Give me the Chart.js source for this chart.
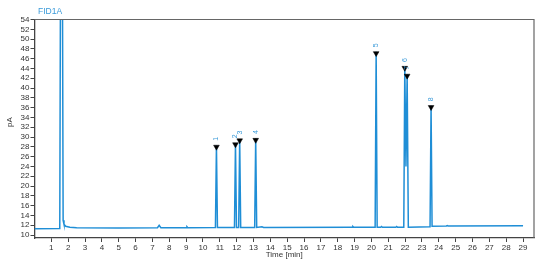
<!DOCTYPE html>
<html><head><meta charset="utf-8">
<script src="https://cdn.jsdelivr.net/npm/chart.js@4/dist/chart.umd.min.js"></script>
<style>html,body{margin:0;padding:0;background:#fff}</style>
</head><body>
<canvas id="c" width="555" height="263"></canvas>
<script>
// Chromatogram trace (time in min, signal in pA)
const times  = [0, 1.50, 1.54, 1.66, 1.70, 1.75, 1.85, 2.1, 2.5, 5.0, 7.3, 7.4, 7.5, 9.0, 9.05, 9.1,
  10.74, 10.80, 10.86, 11.87, 11.93, 11.99, 12.06, 12.12, 12.18, 12.24, 13.07, 13.13, 13.19, 13.5, 13.6,
  18.85, 18.9, 18.95, 20.22, 20.28, 20.34, 20.55, 20.6, 20.65, 21.45, 21.5, 21.55, 21.92, 21.98, 22.05, 22.12, 22.19,
  23.48, 23.54, 23.60, 24.45, 24.5, 24.55, 29.0];
const signal = [11.3, 11.35, 60, 60, 13.0, 12.2, 11.8, 11.6, 11.5, 11.45, 11.5, 12.0, 11.5, 11.5, 11.7, 11.5,
  11.55, 28.3, 11.55, 11.55, 28.8, 11.55, 11.55, 11.55, 29.6, 11.55, 11.55, 29.7, 11.55, 11.7, 11.55,
  11.6, 11.75, 11.6, 11.6, 47.4, 11.6, 11.6, 11.75, 11.6, 11.6, 11.75, 11.6, 11.6, 44.4, 24.0, 42.8, 11.6,
  11.7, 36.4, 11.8, 11.85, 11.95, 11.85, 11.9];
// Integrated peaks
const peakTimes   = [10.80, 11.93, 12.18, 13.13, 20.28, 21.98, 22.12, 23.54];
const peakHeights = [28.0, 28.5, 29.3, 29.4, 47.1, 44.1, 42.5, 36.1];
const peakLabels  = ['1', '2', '3', '4', '5', '6', '7', '8'];
// Axis ticks
const xTicks = [1,2,3,4,5,6,7,8,9,10,11,12,13,14,15,16,17,18,19,20,21,22,23,24,25,26,27,28,29];
const yTicks = [10,12,14,16,18,20,22,24,26,28,30,32,34,36,38,40,42,44,46,48,50,52,54];

const BLUE = '#1f8ed6';
const AXIS = '#444';
const FONT = 'Liberation Sans, Arial, sans-serif';

const overlay = {
  id: 'overlay',
  afterDraw(chart) {
    const ctx = chart.ctx, a = chart.chartArea;
    const xs = chart.scales.x, ys = chart.scales.y;
    ctx.save();
    // top & right frame
    ctx.strokeStyle = '#666'; ctx.lineWidth = 1.2;
    ctx.beginPath();
    ctx.moveTo(a.left, a.top); ctx.lineTo(a.right, a.top); ctx.lineTo(a.right, a.bottom);
    ctx.stroke();
    // title
    ctx.fillStyle = '#3a9ad9';
    ctx.font = '8.5px ' + FONT;
    ctx.textAlign = 'left'; ctx.textBaseline = 'middle';
    ctx.fillText('FID1A', 38, 12);
    // axis titles
    ctx.fillStyle = '#333';
    ctx.font = '8px ' + FONT;
    ctx.textAlign = 'center';
    ctx.fillText('Time [min]', (a.left + a.right) / 2 + 0, 255);
    ctx.save();
    ctx.translate(10, 122); ctx.rotate(-Math.PI / 2);
    ctx.fillText('pA', 0, 0);
    ctx.restore();
    // peak labels
    ctx.fillStyle = '#3a9ad9';
    ctx.font = '7px ' + FONT;
    peakTimes.forEach((t, i) => {
      const px = xs.getPixelForValue(t), py = ys.getPixelForValue(peakHeights[i]);
      ctx.save();
      ctx.translate(px, py - 8);
      ctx.rotate(-Math.PI / 2);
      ctx.textAlign = 'center'; ctx.textBaseline = 'middle';
      ctx.fillText(peakLabels[i], 0, 0);
      ctx.restore();
    });
    ctx.restore();
  }
};

new Chart(document.getElementById('c'), {
  type: 'scatter',
  data: {
    datasets: [
      {
        data: times.map((t, i) => ({x: t, y: signal[i]})),
        showLine: true, borderColor: BLUE, borderWidth: 1.5,
        pointRadius: 0, tension: 0, order: 2
      },
      {
        data: peakTimes.map((t, i) => ({x: t, y: peakHeights[i]})),
        showLine: false, pointStyle: 'triangle', rotation: 180,
        pointRadius: 3.3, backgroundColor: '#000', borderColor: '#000', borderWidth: 0.5, order: 1
      }
    ]
  },
  plugins: [overlay],
  options: {
    responsive: false, animation: false,
    layout: {padding: {left: 0, right: 21, top: 19.5, bottom: 0}},
    plugins: {legend: {display: false}, tooltip: {enabled: false}},
    scales: {
      x: {
        type: 'linear', min: 0, max: 29.65,
        afterBuildTicks: s => { s.ticks = xTicks.map(v => ({value: v})); },
        afterFit: s => { s.height = 25; },
        ticks: {font: {size: 8, family: FONT}, color: '#333', padding: 1, maxRotation: 0, autoSkip: false},
        grid: {drawOnChartArea: false, tickLength: 4, color: AXIS},
        border: {color: AXIS, width: 1.3}
      },
      y: {
        min: 9.4, max: 54,
        afterBuildTicks: s => { s.ticks = yTicks.map(v => ({value: v})); },
        afterFit: s => { s.width = 34.5; },
        ticks: {font: {size: 8, family: FONT}, color: '#333', padding: 1, autoSkip: false},
        grid: {drawOnChartArea: false, tickLength: 4, color: AXIS},
        border: {color: AXIS, width: 1.3}
      }
    }
  }
});
</script>
</body></html>
